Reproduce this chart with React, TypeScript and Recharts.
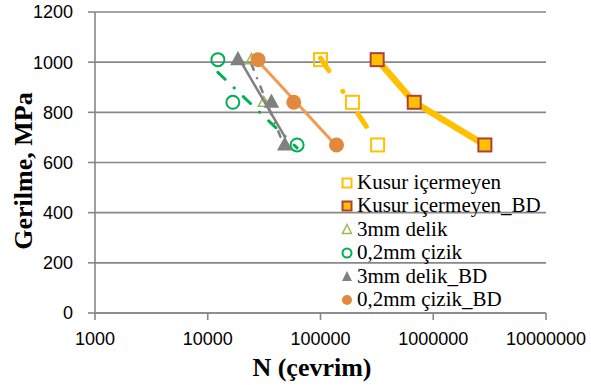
import React from 'react';
import { ScatterChart, Scatter, XAxis, YAxis, CartesianGrid, Label } from 'recharts';

// stress levels shared by every series (MPa)
const stressLevels = [1010, 840, 670];

// cycles to failure per series, same order as stressLevels
const kusurCycles = [100000, 192000, 321000];
const kusurBdCycles = [318000, 678000, 2870000];
const delikCycles = [24400, 31400, 48200];
const cizikCycles = [12300, 16700, 62000];
const delikBdCycles = [18500, 36700, 48200];
const cizikBdCycles = [27900, 57900, 138700];

const xTicks = [1000, 10000, 100000, 1000000, 10000000];
const yTicks = [0, 200, 400, 600, 800, 1000, 1200];

const seriesNames = [
    'Kusur içermeyen',
    'Kusur içermeyen_BD',
    '3mm delik',
    '0,2mm çizik',
    '3mm delik_BD',
    '0,2mm çizik_BD',
];

const toPoints = (cycles: number[]) => cycles.map((n, i) => ({ x: n, y: stressLevels[i] }));

const GRID = '#878787';
const YELLOW = '#FFC000';
const DARK_RED = '#AE403C';
const OLIVE = '#9BBB59';
const GREEN = '#00B050';
const GRAY = '#808080';
const ORANGE_DOT = '#E2893D';
const ORANGE_LINE = '#F39A4E';

const serif = 'Liberation Serif';
const sans = 'Liberation Sans';

const square = (fill: string, stroke: string, size: number) => (p: any) => (
    <rect x={p.cx - size / 2} y={p.cy - size / 2} width={size} height={size} fill={fill} stroke={stroke} strokeWidth={2} />
);

const circle = (fill: string, stroke: string, r: number) => (p: any) => (
    <circle cx={p.cx} cy={p.cy} r={r} fill={fill} stroke={stroke} strokeWidth={2} />
);

const triangle = (fill: string, stroke: string, w: number, h: number) => (p: any) => (
    <polygon
        points={`${p.cx},${p.cy - h * 0.6} ${p.cx + w / 2},${p.cy + h * 0.4} ${p.cx - w / 2},${p.cy + h * 0.4}`}
        fill={fill}
        stroke={stroke}
        strokeWidth={1.5}
    />
);

function LegendMarker({ index }: { index: number }) {
    const c = 6;
    let mark: React.ReactNode = null;
    if (index === 0) mark = <rect x={1.5} y={1.5} width={9} height={9} fill="none" stroke={YELLOW} strokeWidth={2} />;
    if (index === 1) mark = <rect x={1.5} y={1.5} width={9} height={9} fill={YELLOW} stroke={DARK_RED} strokeWidth={2} />;
    if (index === 2) mark = <polygon points="6,1.5 10.5,10.5 1.5,10.5" fill="none" stroke={OLIVE} strokeWidth={1.5} />;
    if (index === 3) mark = <circle cx={c} cy={c} r={4.5} fill="none" stroke={GREEN} strokeWidth={2} />;
    if (index === 4) mark = <polygon points="6,1 11,11 1,11" fill={GRAY} />;
    if (index === 5) mark = <circle cx={c} cy={c} r={5} fill={ORANGE_DOT} />;
    return (
        <svg width={12} height={12} style={{ marginRight: 4, flexShrink: 0 }}>
            {mark}
        </svg>
    );
}

export default function App() {
    return (
        <div style={{ position: 'absolute', left: 0, top: 0, width: 591, height: 385, background: '#fff' }}>
            <ScatterChart width={591} height={385} margin={{ top: 12, right: 45, bottom: 0, left: 0 }}>
                <CartesianGrid vertical={false} stroke={GRID} strokeWidth={1.6} />
                <XAxis
                    dataKey="x"
                    type="number"
                    scale="log"
                    domain={[1000, 10000000]}
                    ticks={xTicks}
                    allowDataOverflow
                    height={72}
                    tickSize={7}
                    tickMargin={12}
                    stroke={GRID}
                    strokeWidth={1.6}
                    tick={{ fill: '#000', fontSize: 18, fontFamily: sans }}
                    tickFormatter={(v: number) => String(v)}
                >
                    <Label
                        content={() => (
                            <text x={312} y={376} textAnchor="middle" fontFamily={serif} fontWeight="bold" fontSize={26} fill="#000">
                                N (çevrim)
                            </text>
                        )}
                    />
                </XAxis>
                <YAxis
                    dataKey="y"
                    type="number"
                    domain={[0, 1200]}
                    ticks={yTicks}
                    width={95}
                    tickSize={7}
                    tickMargin={15}
                    stroke={GRID}
                    strokeWidth={1.6}
                    tick={{ fill: '#000', fontSize: 18, fontFamily: sans }}
                >
                    <Label
                        content={() => (
                            <text
                                x={32}
                                y={171}
                                transform="rotate(-90, 32, 171)"
                                textAnchor="middle"
                                fontFamily={serif}
                                fontWeight="bold"
                                fontSize={26}
                                fill="#000"
                            >
                                Gerilme, MPa
                            </text>
                        )}
                    />
                </YAxis>

                <Scatter
                    name={seriesNames[0]}
                    data={toPoints(kusurCycles)}
                    fill={YELLOW}
                    isAnimationActive={false}
                    line={{ stroke: YELLOW, strokeWidth: 5, strokeDasharray: '15 25 0.1 27', strokeLinecap: 'round' }}
                    lineType="fitting"
                    shape={square('none', YELLOW, 13)}
                />
                <Scatter
                    name={seriesNames[1]}
                    data={toPoints(kusurBdCycles)}
                    fill={YELLOW}
                    isAnimationActive={false}
                    line={{ stroke: YELLOW, strokeWidth: 6.5, strokeLinecap: 'round', strokeLinejoin: 'round' }}
                    lineType="joint"
                    shape={square(YELLOW, DARK_RED, 13)}
                />
                <Scatter
                    name={seriesNames[2]}
                    data={toPoints(delikCycles)}
                    fill={OLIVE}
                    isAnimationActive={false}
                    line={{ stroke: GRAY, strokeWidth: 2.5, strokeDasharray: '6 9 0.1 9', strokeLinecap: 'round' }}
                    lineType="fitting"
                    shape={triangle('none', OLIVE, 11, 10)}
                />
                <Scatter
                    name={seriesNames[3]}
                    data={toPoints(cizikCycles)}
                    fill={GREEN}
                    isAnimationActive={false}
                    line={{ stroke: GREEN, strokeWidth: 3, strokeDasharray: '10 12.5 0.1 12.5', strokeLinecap: 'round' }}
                    lineType="fitting"
                    shape={circle('none', GREEN, 6.5)}
                />
                <Scatter
                    name={seriesNames[4]}
                    data={toPoints(delikBdCycles)}
                    fill={GRAY}
                    isAnimationActive={false}
                    line={{ stroke: GRAY, strokeWidth: 2.5 }}
                    lineType="fitting"
                    shape={triangle(GRAY, GRAY, 13, 12)}
                />
                <Scatter
                    name={seriesNames[5]}
                    data={toPoints(cizikBdCycles)}
                    fill={ORANGE_DOT}
                    isAnimationActive={false}
                    line={{ stroke: ORANGE_LINE, strokeWidth: 3 }}
                    lineType="fitting"
                    shape={circle(ORANGE_DOT, ORANGE_DOT, 6.5)}
                />
            </ScatterChart>

            {/* legend sits over the plot, no background */}
            <div
                style={{
                    position: 'absolute',
                    left: 341,
                    top: 171,
                    fontFamily: serif,
                    fontSize: 21,
                    lineHeight: '23.4px',
                    color: '#000',
                    whiteSpace: 'nowrap',
                }}
            >
                {seriesNames.map((name, i) => (
                    <div key={name} style={{ display: 'flex', alignItems: 'center', height: 23.4 }}>
                        <LegendMarker index={i} />
                        <span>{name}</span>
                    </div>
                ))}
            </div>
        </div>
    );
}
